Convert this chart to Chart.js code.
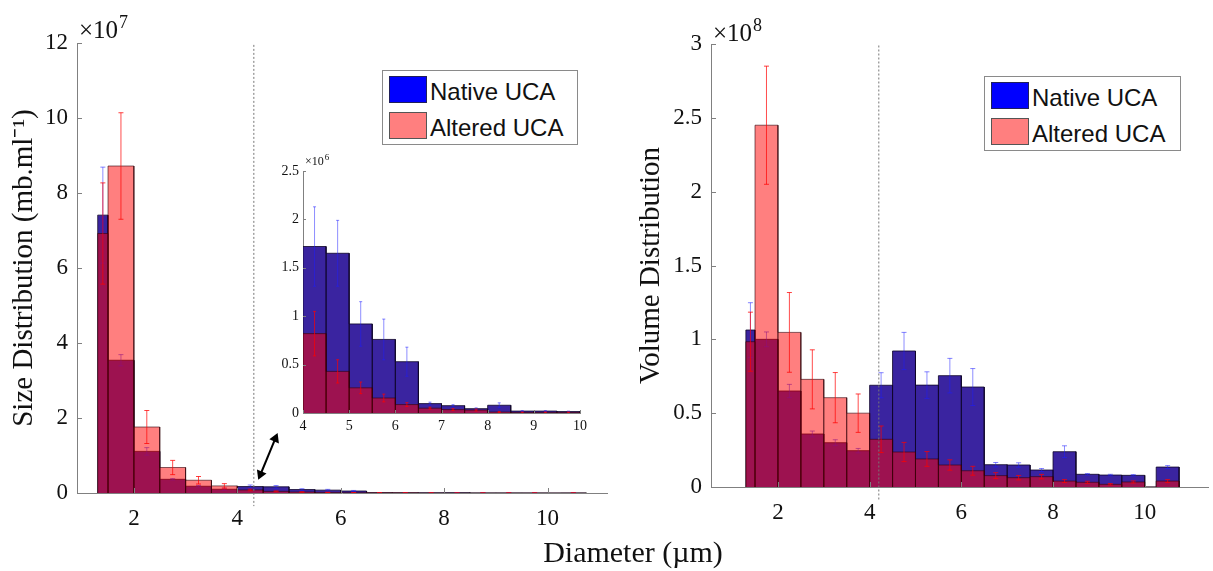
<!DOCTYPE html>
<html>
<head>
<meta charset="utf-8">
<script src="https://cdn.jsdelivr.net/npm/chart.js@4.4.0/dist/chart.umd.min.js"></script>
<style>
  body { margin: 0; background: #fff; width: 1213px; height: 571px; position: relative; overflow: hidden; }
  canvas { position: absolute; }
  #sizeChart { left: 0; top: 0; }
  #insetChart { left: 250px; top: 150px; }
  #volChart { left: 620px; top: 0; }
  .legend { position: absolute; box-sizing: border-box; border: 1px solid #8a8a8a; background: #fff;
            font: 24px "Liberation Sans", Arial, sans-serif; color: #111; }
  .sw { position: absolute; left: 6px; width: 38px; height: 27px; box-sizing: border-box; border: 1px solid #333; }
  .lt { position: absolute; left: 47px; line-height: 24px; white-space: nowrap; }
  #xtitle { position: absolute; left: 633px; top: 537px; transform: translateX(-50%);
            font: 30px "Liberation Serif", "Times New Roman", serif; line-height: 30px; color: #111; white-space: nowrap; }
</style>
</head>
<body>
<canvas id="sizeChart" width="620" height="571"></canvas>
<canvas id="insetChart" width="350" height="300"></canvas>
<canvas id="volChart" width="593" height="571"></canvas>

<div class="legend" style="left:382px;top:70px;width:196px;height:75px">
  <div class="sw" style="top:5px;background:#0000ff;border-color:#20205a"></div><div class="lt" style="top:9px">Native UCA</div>
  <div class="sw" style="top:41px;background:#ff7f7f;border-color:#555"></div><div class="lt" style="top:45px">Altered UCA</div>
</div>
<div class="legend" style="left:984px;top:76px;width:197px;height:75px">
  <div class="sw" style="top:5px;background:#0000ff;border-color:#20205a"></div><div class="lt" style="top:9px">Native UCA</div>
  <div class="sw" style="top:41px;background:#ff7f7f;border-color:#555"></div><div class="lt" style="top:45px">Altered UCA</div>
</div>
<div id="xtitle">Diameter (µm)</div>

<script>
// bin edges (µm)
const binLo = [1.3, 1.5, 2, 2.5, 3, 3.5, 4, 4.5, 5, 5.5, 6, 6.5, 7, 7.5, 8, 8.5, 9, 9.5, 10.25]
const binHi = [1.5, 2, 2.5, 3, 3.5, 4, 4.5, 5, 5.5, 6, 6.5, 7, 7.5, 8, 8.5, 9, 9.5, 10, 10.75]

// size distribution, x10^6 mb.ml-1
const sizeNative = [74.1, 35.4, 11.1, 3.65, 1.8, 1.0, 1.72, 1.65, 0.92, 0.76, 0.53, 0.097, 0.076, 0.045, 0.08, 0.02, 0.02, 0.015, 0.015]
const sizeNativeErr = [12.8, 1.5, 1.0, 0.2, 0.2, 0.3, 0.41, 0.34, 0.23, 0.21, 0.15, 0.015, 0.01, 0.008, 0.025, 0.005, 0.005, 0.005, 0.005]
const sizeAltered = [69.2, 87.2, 17.6, 6.8, 3.4, 1.9, 0.82, 0.43, 0.26, 0.155, 0.087, 0.05, 0.035, 0.03, 0.01, 0.005, 0.005, 0.005, 0.005]
const sizeAlteredErr = [13.5, 14.2, 4.4, 1.9, 1.0, 0.6, 0.23, 0.12, 0.06, 0.04, 0.02, 0.01, 0.01, 0.01, 0.005, 0.005, 0.005, 0.005, 0.005]

// volume distribution, x10^8
const volNative = [1.063, 1.0, 0.65, 0.359, 0.30, 0.246, 0.689, 0.921, 0.69, 0.754, 0.677, 0.151, 0.149, 0.115, 0.239, 0.086, 0.081, 0.079, 0.135]
const volNativeErr = [0.185, 0.05, 0.045, 0.02, 0.02, 0.015, 0.085, 0.126, 0.09, 0.117, 0.125, 0.015, 0.015, 0.01, 0.04, 0.005, 0.005, 0.005, 0.01]
const volAltered = [0.984, 2.45, 1.047, 0.729, 0.605, 0.50, 0.323, 0.237, 0.19, 0.149, 0.11, 0.077, 0.063, 0.07, 0.04, 0.032, 0.018, 0.034, 0.04]
const volAlteredErr = [0.2, 0.4, 0.27, 0.2, 0.17, 0.13, 0.09, 0.065, 0.05, 0.035, 0.03, 0.02, 0.015, 0.015, 0.01, 0.007, 0.005, 0.007, 0.01]

// tick labels
const xTicks = [2, 4, 6, 8, 10]
const sizeTicksY = [0, 2, 4, 6, 8, 10, 12]
const insetTicksX = [4, 5, 6, 7, 8, 9, 10]
const insetTicksY = [0, 0.5, 1, 1.5, 2, 2.5]
const volTicksY = [0, 0.5, 1, 1.5, 2, 2.5, 3]

// cut-off markers
const sizeCut = 4.32
const volCut = 4.2

const serif = '"Liberation Serif", "Times New Roman", serif'
const allIdx = binLo.map((_, i) => i)
const insetIdx = allIdx.filter(i => binLo[i] >= 4 && binHi[i] <= 10)

// histogram outline: every bin as its own box down to zero
function histPoints(vals, k, idx) {
  const pts = []
  idx.forEach(i => {
    pts.push({ x: binLo[i], y: 0 }, { x: binLo[i], y: vals[i] * k },
             { x: binHi[i], y: vals[i] * k }, { x: binHi[i], y: 0 })
  })
  return pts
}

function errPoints(vals, errs, k, idx) {
  const pts = []
  idx.forEach(i => {
    const c = (binLo[i] + binHi[i]) / 2
    pts.push({ x: c, y: Math.max(0, vals[i] - errs[i]) * k }, { x: c, y: (vals[i] + errs[i]) * k }, { x: c, y: null })
  })
  return pts
}

function histDatasets(nat, natErr, alt, altErr, k, idx, capR) {
  const base = { showLine: true, tension: 0, borderWidth: 1, pointRadius: 0 }
  return [
    { ...base, data: histPoints(nat, k, idx), borderColor: 'rgba(15,5,40,0.8)', backgroundColor: 'rgb(58,36,160)', fill: 'origin', order: 5 },
    { ...base, data: errPoints(nat, natErr, k, idx), borderColor: 'rgba(30,30,255,0.5)', pointStyle: 'line',
      pointRadius: capR, pointBorderColor: 'rgba(30,30,255,0.55)', pointBorderWidth: 1, order: 4 },
    { ...base, data: histPoints(alt, k, idx), borderColor: 'rgba(50,0,10,0.6)', backgroundColor: 'rgba(255,0,0,0.5)', fill: 'origin', order: 3 },
    { ...base, data: errPoints(alt, altErr, k, idx), borderColor: 'rgba(255,0,0,0.7)', pointStyle: 'line',
      pointRadius: capR, pointBorderColor: 'rgba(255,0,0,0.75)', pointBorderWidth: 1, order: 2 },
  ]
}

function cutLine(x, yTop, yBot) {
  return { showLine: true, data: [{ x: x, y: yTop }, { x: x, y: yBot }], borderColor: '#777', borderWidth: 1,
           borderDash: [2, 2], pointRadius: 0, clip: false, order: 0 }
}

function axis(min, max, ticks, fontSize, pad, fit, title) {
  return {
    type: 'linear', min: min, max: max,
    afterBuildTicks: s => { s.ticks = ticks.map(v => ({ value: v })) },
    afterFit: fit,
    grid: { display: false, drawTicks: false },
    border: { display: true, color: '#808080', width: 1 },
    ticks: { padding: pad, autoSkip: false, maxRotation: 0, color: '#111',
             font: { family: serif, size: fontSize }, callback: v => String(v) },
    title: title || { display: false },
  }
}

// inward tick marks and the x10^n multiplier
const axisExtras = {
  id: 'axisExtras',
  afterDraw(chart, args, o) {
    const { ctx, chartArea: a, scales: { x, y } } = chart
    ctx.save()
    ctx.strokeStyle = '#808080'
    ctx.lineWidth = 1
    ctx.beginPath()
    x.ticks.forEach(t => {
      const px = Math.round(x.getPixelForValue(t.value)) + 0.5
      ctx.moveTo(px, a.bottom); ctx.lineTo(px, a.bottom - o.len)
    })
    y.ticks.forEach(t => {
      const py = Math.round(y.getPixelForValue(t.value)) + 0.5
      ctx.moveTo(a.left, py); ctx.lineTo(a.left + o.len, py)
    })
    ctx.stroke()
    ctx.fillStyle = '#111'
    ctx.textBaseline = 'alphabetic'
    ctx.font = o.font + 'px ' + serif
    const tx = a.left + o.dx, ty = a.top + o.dy
    ctx.fillText('×10', tx, ty)
    const w = ctx.measureText('×10').width
    ctx.font = Math.round(o.font * 0.72) + 'px ' + serif
    ctx.fillText(o.exp, tx + w + 1, ty - o.font * 0.42)
    ctx.restore()
  },
}

const common = {
  responsive: false,
  animation: false,
  events: [],
  plugins: { legend: { display: false }, tooltip: { enabled: false } },
}

// main size distribution chart
new Chart(document.getElementById('sizeChart'), {
  type: 'scatter',
  data: {
    datasets: [
      ...histDatasets(sizeNative, sizeNativeErr, sizeAltered, sizeAlteredErr, 0.1, allIdx, 2.5),
      cutLine(sizeCut, 11.95, -0.35),
      { showLine: true, data: [{ x: 4.45, y: 0.5 }, { x: 4.735, y: 1.45 }], borderColor: '#000', borderWidth: 2,
        pointStyle: 'triangle', pointRadius: 4, pointRotation: [202.9, 22.9], pointBackgroundColor: '#000',
        pointBorderColor: '#000', clip: false, order: 0 },
    ],
  },
  options: {
    ...common,
    layout: { padding: { left: 0, top: 43, right: 13, bottom: 38 } },
    scales: {
      x: axis(0.9, 11.15, xTicks, 23, 12, s => { s.height = 40 }),
      y: axis(0, 12, sizeTicksY, 23, 9, s => { s.width = 77 },
        { display: true, text: 'Size Distribution (mb.ml⁻¹)', color: '#111',
          font: { family: serif, size: 29 }, padding: { top: 7, bottom: 0 } }),
    },
    plugins: { ...common.plugins, axisExtras: { len: 5, font: 25, exp: '7', dx: 2, dy: -5 } },
  },
  plugins: [axisExtras],
})

// inset: 4-10 µm
new Chart(document.getElementById('insetChart'), {
  type: 'scatter',
  data: { datasets: histDatasets(sizeNative, sizeNativeErr, sizeAltered, sizeAlteredErr, 1, insetIdx, 1.5) },
  options: {
    ...common,
    layout: { padding: { left: 0, top: 21, right: 20, bottom: 12 } },
    scales: {
      x: axis(4, 10, insetTicksX, 14, 5, s => { s.height = 25 }),
      y: axis(0, 2.5, insetTicksY, 14, 4, s => { s.width = 53 }),
    },
    plugins: { ...common.plugins, axisExtras: { len: 3, font: 12, exp: '6', dx: 2, dy: -6 } },
  },
  plugins: [axisExtras],
})

// volume distribution chart
new Chart(document.getElementById('volChart'), {
  type: 'scatter',
  data: {
    datasets: [
      ...histDatasets(volNative, volNativeErr, volAltered, volAlteredErr, 1, allIdx, 2.5),
      cutLine(volCut, 2.99, -0.088),
    ],
  },
  options: {
    ...common,
    layout: { padding: { left: 0, top: 44, right: 0, bottom: 44 } },
    scales: {
      x: axis(0.54, 11.38, xTicks, 23, 12, s => { s.height = 40 }),
      y: axis(0, 3, volTicksY, 23, 9, s => { s.width = 91 },
        { display: true, text: 'Volume Distribution', color: '#111',
          font: { family: serif, size: 29 }, padding: { top: 14, bottom: 0 } }),
    },
    plugins: { ...common.plugins, axisExtras: { len: 5, font: 25, exp: '8', dx: 2, dy: -3 } },
  },
  plugins: [axisExtras],
})
</script>
</body>
</html>
